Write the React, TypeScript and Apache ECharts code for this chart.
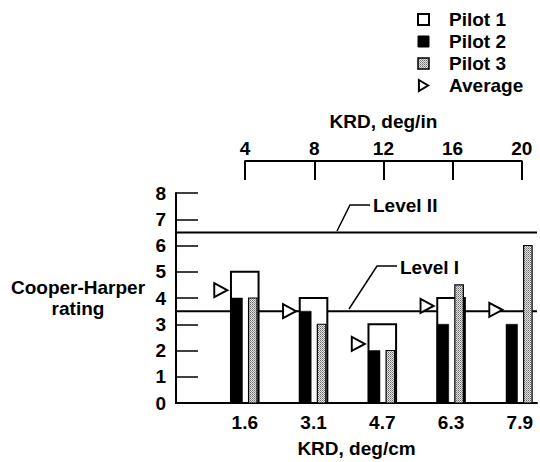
import React, { useEffect, useRef } from "react";
import * as echarts from "echarts";

// KRD in deg/in (bar positions / top-axis ticks) and deg/cm labels (bottom axis)
const krdPerInch = [4, 8, 12, 16, 20];
const krdPerCm = ["1.6", "3.1", "4.7", "6.3", "7.9"];
const pilot1: (number | null)[] = [5, 4, 3, 4, null];
const pilot2: (number | null)[] = [4, 3.5, 2, 3, 3];
const pilot3: (number | null)[] = [4, 3, 2, 4.5, 6];
const average = [4.3, 3.5, 2.25, 3.7, 3.55];
const levelI = 3.5;
const levelII = 6.5;
const yTicks = [0, 1, 2, 3, 4, 5, 6, 7, 8];

const FONT = "'Liberation Sans', Arial, Helvetica, sans-serif";
const X_MAX = 21;

function pairs(vals: (number | null)[]) {
  const out: number[][] = [];
  vals.forEach((v, i) => {
    if (v != null) out.push([krdPerInch[i], v]);
  });
  return out;
}

function makeStipple(): any {
  try {
    const c = document.createElement("canvas");
    c.width = 2;
    c.height = 2;
    const ctx = c.getContext("2d");
    if (!ctx) return "#b4b4b4";
    ctx.fillStyle = "#e2e2e2";
    ctx.fillRect(0, 0, 2, 2);
    ctx.fillStyle = "#6e6e6e";
    ctx.fillRect(0, 0, 1, 1);
    ctx.fillStyle = "#9a9a9a";
    ctx.fillRect(1, 1, 1, 1);
    return { image: c, repeat: "repeat", imageWidth: 2, imageHeight: 2 };
  } catch (e) {
    return "#b4b4b4";
  }
}

function barRenderer(kind: number, stipple: any) {
  return (params: any, api: any) => {
    const xv = api.value(0);
    const yv = api.value(1);
    const top = api.coord([xv, yv]);
    const base = api.coord([xv, 0]);
    const cx = top[0];
    let x0 = cx - 13.8;
    let w = 27.6;
    let style: any = { fill: "#fff", stroke: "#000", lineWidth: 2 };
    if (kind === 2) {
      x0 = cx - 13.8;
      w = 11.5;
      style = { fill: "#000", stroke: "#000", lineWidth: 0.5 };
    } else if (kind === 3) {
      x0 = cx + 3.8;
      w = 8.5;
      style = { fill: stipple, stroke: "#000", lineWidth: 1.2 };
    }
    return {
      type: "rect",
      shape: { x: x0, y: top[1], width: w, height: base[1] - top[1] },
      style,
    };
  };
}

export default function App() {
  const ref = useRef<HTMLDivElement>(null);
  useEffect(() => {
    if (!ref.current) return;
    const chart = echarts.init(ref.current, null, { renderer: "svg" });
    const stipple = makeStipple();
    const txt = { fontFamily: FONT, fontWeight: "bold" as const, fontSize: 19, color: "#000" };
    const gridLeft = 176;
    const pxPer = (540 - 1 - gridLeft) / X_MAX;
    chart.setOption({
      animation: false,
      backgroundColor: "#fff",
      textStyle: { fontFamily: FONT },
      legend: {
        orient: "vertical",
        left: 412,
        top: 5,
        itemWidth: 11,
        itemHeight: 11,
        itemGap: 3,
        textStyle: { ...txt, lineHeight: 19, padding: [0, 0, 0, 15] },
        data: [
          { name: "Pilot 1", icon: "rect", itemStyle: { color: "#fff", borderColor: "#000", borderWidth: 2 } },
          { name: "Pilot 2", icon: "rect", itemStyle: { color: "#000", borderColor: "#000", borderWidth: 1 } },
          { name: "Pilot 3", icon: "rect", itemStyle: { color: stipple, borderColor: "#000", borderWidth: 1.5 } },
          { name: "Average", icon: "path://M0,0L10,6L0,12Z", itemStyle: { color: "#fff", borderColor: "#000", borderWidth: 2 } },
        ],
      },
      grid: [
        { left: gridLeft, right: 1, top: 193, height: 210 },
        {
          left: gridLeft + krdPerInch[0] * pxPer,
          width: (krdPerInch[krdPerInch.length - 1] - krdPerInch[0]) * pxPer,
          top: 161,
          height: 19,
        },
      ],
      xAxis: [
        {
          type: "value",
          gridIndex: 0,
          min: 0,
          max: X_MAX,
          interval: 4,
          name: "KRD, deg/cm",
          nameLocation: "middle",
          nameGap: 36,
          nameTextStyle: txt,
          axisLine: { onZero: false, lineStyle: { color: "#000", width: 2 } },
          axisTick: { show: false },
          splitLine: { show: false },
          axisLabel: {
            ...txt,
            margin: 10,
            formatter: (v: number) => {
              const i = krdPerInch.indexOf(v);
              return i >= 0 ? krdPerCm[i] : "";
            },
          },
        },
        {
          type: "value",
          gridIndex: 1,
          position: "top",
          min: krdPerInch[0],
          max: krdPerInch[krdPerInch.length - 1],
          interval: 4,
          name: "KRD, deg/in",
          nameLocation: "middle",
          nameGap: 30,
          nameTextStyle: txt,
          axisLine: { onZero: false, lineStyle: { color: "#000", width: 2 } },
          axisTick: { inside: true, length: 19, lineStyle: { color: "#000", width: 2 } },
          splitLine: { show: false },
          axisLabel: { ...txt, margin: 3 },
        },
      ],
      yAxis: [
        {
          type: "value",
          gridIndex: 0,
          min: yTicks[0],
          max: yTicks[yTicks.length - 1],
          interval: 1,
          name: "Cooper-Harper\nrating",
          nameLocation: "middle",
          nameRotate: 0,
          nameGap: 98,
          nameTextStyle: { ...txt, align: "center", lineHeight: 21 },
          axisLine: { show: true, onZero: false, lineStyle: { color: "#000", width: 2 } },
          axisTick: { show: true, inside: true, length: 22, lineStyle: { color: "#000", width: 1.5 } },
          splitLine: { show: false },
          axisLabel: { ...txt, margin: 10 },
        },
        {
          type: "value",
          gridIndex: 1,
          min: 0,
          max: 1,
          show: false,
        },
      ],
      series: [
        {
          name: "Level I",
          type: "line",
          z: 1,
          symbol: "none",
          silent: true,
          lineStyle: { color: "#000", width: 2 },
          data: [[0, levelI], [X_MAX, levelI]],
        },
        {
          name: "Level II",
          type: "line",
          z: 1,
          symbol: "none",
          silent: true,
          lineStyle: { color: "#000", width: 2 },
          data: [[0, levelII], [X_MAX, levelII]],
        },
        {
          name: "Pilot 1",
          type: "custom",
          z: 2,
          encode: { x: 0, y: 1 },
          renderItem: barRenderer(1, stipple),
          data: pairs(pilot1),
        },
        {
          name: "Pilot 2",
          type: "custom",
          z: 3,
          encode: { x: 0, y: 1 },
          renderItem: barRenderer(2, stipple),
          data: pairs(pilot2),
        },
        {
          name: "Pilot 3",
          type: "custom",
          z: 4,
          encode: { x: 0, y: 1 },
          renderItem: barRenderer(3, stipple),
          data: pairs(pilot3),
        },
        {
          name: "Average",
          type: "scatter",
          z: 5,
          symbol: "path://M0,0L10,6L0,12Z",
          symbolSize: [13, 14],
          symbolOffset: [-24, 0],
          itemStyle: { color: "#fff", borderColor: "#000", borderWidth: 2, opacity: 1 },
          data: average.map((v, i) => [krdPerInch[i], v]),
        },
      ],
      graphic: [
        {
          type: "polyline",
          z: 10,
          shape: { points: [[337, 231], [350, 205], [370, 205]] },
          style: { stroke: "#000", lineWidth: 1.5, fill: null },
        },
        {
          type: "text",
          z: 10,
          x: 373,
          y: 205,
          style: { text: "Level II", font: `bold 19px ${FONT}`, fill: "#000", verticalAlign: "middle" },
        },
        {
          type: "polyline",
          z: 10,
          shape: { points: [[349, 309], [377, 266], [397, 266]] },
          style: { stroke: "#000", lineWidth: 1.5, fill: null },
        },
        {
          type: "text",
          z: 10,
          x: 400,
          y: 267,
          style: { text: "Level I", font: `bold 19px ${FONT}`, fill: "#000", verticalAlign: "middle" },
        },
      ],
    });
    return () => chart.dispose();
  }, []);
  return (
    <div
      ref={ref}
      style={{ position: "fixed", left: 0, top: 0, width: 540, height: 462, background: "#fff" }}
    />
  );
}
